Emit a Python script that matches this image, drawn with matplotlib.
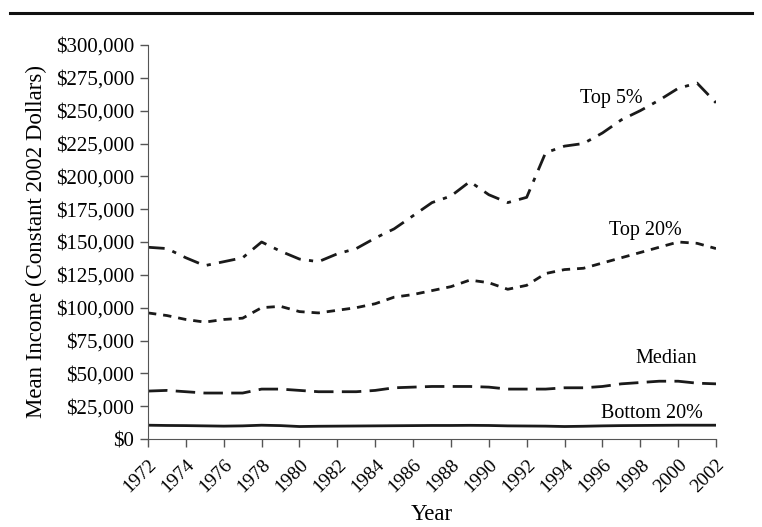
import matplotlib
matplotlib.use("Agg")
import matplotlib.pyplot as plt
from matplotlib.lines import Line2D
from matplotlib.ticker import FuncFormatter

years = list(range(1972, 2003))

top5 = [146, 145, 138, 132, 135, 138, 150, 143, 137, 135, 141, 145, 153, 160,
        170, 180, 185, 196, 186, 180, 184, 218, 223, 225, 233, 243, 250, 258,
        267, 271, 256]
top20 = [96, 94, 91, 89, 91, 92, 100, 101, 97, 96, 98, 100, 103, 108,
         110, 113, 116, 121, 119, 114, 117, 126, 129, 130, 134, 138, 142, 146,
         150, 149, 145]
median = [36.5, 37, 36, 35, 35, 35, 38, 38, 37, 36, 36, 36, 37, 39,
          39.5, 40, 40, 40, 39.5, 38, 38, 38, 39, 39, 40, 42, 43, 44,
          44, 42.5, 42]
bottom20 = [10.5, 10.3, 10.2, 10, 9.8, 10, 10.5, 10.2, 9.5, 9.7, 9.8, 9.9, 10, 10.1,
            10.2, 10.3, 10.3, 10.4, 10.3, 10, 9.9, 9.8, 9.5, 9.7, 10, 10.2, 10.3, 10.4,
            10.5, 10.5, 10.5]

series = [
    ("Top 5%", top5, (0, (6, 3, 1.5, 3))),
    ("Top 20%", top20, (0, (3, 2.5))),
    ("Median", median, (0, (7, 3))),
    ("Bottom 20%", bottom20, "-"),
]

plt.rcParams["font.family"] = ["Liberation Serif", "DejaVu Serif"]

fig = plt.figure(figsize=(7.62, 5.27), dpi=100)
ax = fig.add_axes([148 / 762, 1 - 439 / 527, (716 - 148) / 762, (439 - 45) / 527])

for name, vals, ls in series:
    ax.plot(years, [v * 1000 for v in vals], color="#1a1a1a", linewidth=2,
            linestyle=ls)

ax.set_xlim(1972, 2002)
ax.set_ylim(0, 300000)
ax.set_xticks(years[::2])
ax.set_xticklabels([str(y) for y in years[::2]], rotation=45, ha="right",
                   va="top", rotation_mode="anchor")
ax.set_yticks(range(0, 300001, 25000))
ax.yaxis.set_major_formatter(FuncFormatter(lambda v, p: "${:,.0f}".format(v)))
ax.tick_params(color="#555555", length=6, width=1, direction="out")
ax.tick_params(axis="y", labelsize=15, pad=4)
ax.tick_params(axis="x", labelsize=14, pad=6)

for s in ["top", "right"]:
    ax.spines[s].set_visible(False)
for s in ["left", "bottom"]:
    ax.spines[s].set_color("#555555")

ax.set_xlabel("Year", fontsize=16.5, labelpad=6)
ax.set_ylabel("Mean Income (Constant 2002 Dollars)", fontsize=16.5, labelpad=6)

ax.text(1998.1, 259000, "Top 5%", fontsize=14.5, ha="right", va="center")
ax.text(2000.2, 159000, "Top 20%", fontsize=14.5, ha="right", va="center")
ax.text(2001.0, 61500, "Median", fontsize=14.5, ha="right", va="center")
ax.text(2001.3, 19500, "Bottom 20%", fontsize=14.5, ha="right", va="center")

fig.add_artist(Line2D([10 / 762, 752 / 762], [1 - 13 / 527, 1 - 13 / 527],
                      color="#111111", linewidth=2.2))

fig.savefig("out.png", dpi=100)
